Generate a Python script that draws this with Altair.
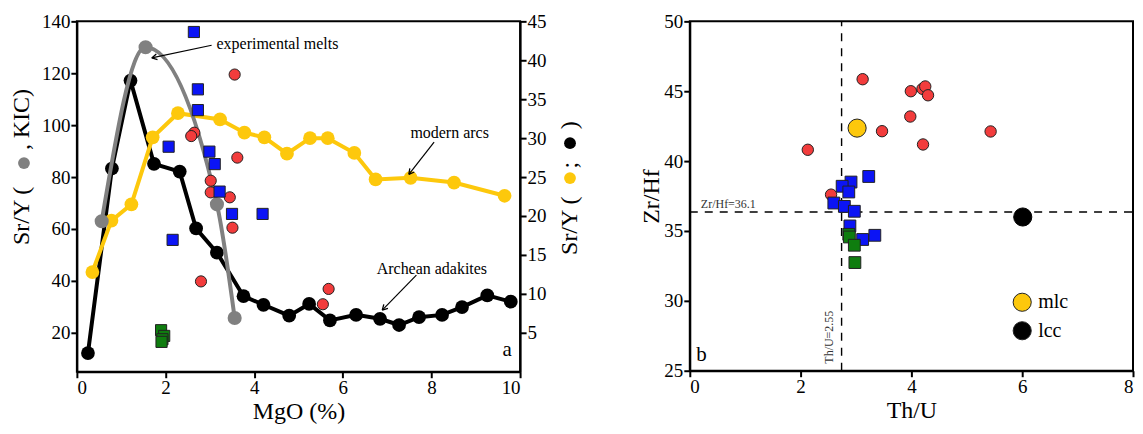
import altair as alt
import pandas as pd

# ---------------- panel a data ----------------
exp_mgo = [0.56, 1.55, 3.16, 3.56]
exp_sry = [63.0, 130.0, 69.5, 25.7]

arch_mgo = [0.25, 0.79, 1.21, 1.74, 2.32, 2.69, 3.16, 3.76, 4.21, 4.79, 5.24, 5.71, 6.30, 6.84, 7.27, 7.72, 8.24, 8.69, 9.26, 9.79]
arch_sry = [2.4, 26.1, 37.4, 26.7, 25.7, 18.4, 15.3, 9.7, 8.6, 7.2, 8.7, 6.6, 7.3, 6.8, 6.0, 7.0, 7.3, 8.3, 9.8, 9.0]

arc_mgo = [0.35, 0.78, 1.23, 1.71, 2.28, 3.23, 3.78, 4.23, 4.74, 5.26, 5.66, 6.26, 6.74, 7.53, 8.51, 9.65]
arc_sry = [12.8, 19.4, 21.5, 30.1, 33.2, 32.4, 30.7, 30.1, 28.0, 30.0, 30.0, 28.1, 24.7, 24.9, 24.3, 22.6]

red_mgo = [3.56, 2.65, 2.58, 3.62, 3.02, 3.02, 3.45, 3.51, 2.80, 5.68, 5.55]
red_sry = [119.5, 97.1, 95.8, 87.5, 78.6, 74.1, 72.2, 60.5, 39.8, 36.9, 31.0]

blue_mgo = [2.64, 2.73, 2.73, 2.07, 2.99, 3.11, 3.22, 3.50, 4.19, 2.16]
blue_sry = [135.9, 113.8, 105.8, 91.7, 89.8, 85.0, 74.4, 65.8, 65.8, 55.8]

green_mgo = [1.90, 1.97, 1.93, 1.91]
green_sry = [21.0, 18.8, 17.5, 16.5]

# ---------------- panel b data ----------------
b_red_thu = [3.12, 2.13, 3.47, 2.55, 3.99, 4.20, 4.25, 4.30, 3.98, 4.21, 5.43]
b_red_zrhf = [45.86, 40.81, 42.14, 37.60, 45.00, 45.17, 45.34, 44.71, 43.19, 41.19, 42.12]

b_blue_thu = [3.23, 2.91, 2.75, 2.87, 2.60, 2.79, 2.97, 2.89, 3.12, 3.34]
b_blue_zrhf = [38.9, 38.5, 38.2, 37.79, 37.0, 36.76, 36.41, 35.36, 34.39, 34.69]

b_green_thu = [2.87, 2.88, 2.97, 2.98]
b_green_zrhf = [34.76, 34.57, 33.98, 32.74]

mlc_thu, mlc_zrhf = [3.02], [42.36]
lcc_thu, lcc_zrhf = [6.01], [36.0]

zrhf_ref = 36.36
thu_ref = 2.74

# ---------------- styling ----------------
SERIF = "Liberation Serif"
RED = "#f23c3c"
BLUE = "#0b14f5"
GREEN = "#0f7d0f"
YELLOW = "#fdc80c"
GRAY = "#808080"
ARROW = "M0,0L-1,-0.55M0,0L-1,0.55"

W1, H1 = 444, 351
W2, H2 = 444, 350

xA = alt.Scale(domain=[0, 10], nice=False)
yL = alt.Scale(domain=[5, 140], nice=False, zero=False)
yR = alt.Scale(domain=[0, 45], nice=False, zero=False)

one = pd.DataFrame({"k": [0]})


def df(**cols):
    return pd.DataFrame(cols)


def arrow(x0, y0, x1, y1, ang, xs, ys):
    d = df(x0=[x0], y0=[y0], x1=[x1], y1=[y1])
    r = alt.Chart(d).mark_rule(color="black", strokeWidth=1.2).encode(
        x=alt.X("x0:Q", scale=xs), x2="x1:Q", y=alt.Y("y0:Q", scale=ys), y2="y1:Q")
    h = alt.Chart(d).mark_point(shape=ARROW, filled=False, stroke="black", strokeWidth=1.3,
                                size=110, angle=ang, opacity=1).encode(
        x=alt.X("x1:Q", scale=xs), y=alt.Y("y1:Q", scale=ys))
    return r + h


def vtext(txt, xpx, ypx, align="left", size=24):
    return alt.Chart(one).mark_text(text=txt, angle=270, align=align, baseline="middle",
                                    font=SERIF, fontSize=size, color="black").encode(
        x=alt.value(xpx), y=alt.value(ypx))


def dot(xpx, ypx, color, size=140):
    return alt.Chart(one).mark_circle(color=color, size=size, opacity=1).encode(
        x=alt.value(xpx), y=alt.value(ypx))


# ---------------- panel a: right-axis group ----------------
arch = df(m=arch_mgo, s=arch_sry)
arc = df(m=arc_mgo, s=arc_sry)

ax_x = alt.Axis(values=[0, 2, 4, 6, 8, 10], title="MgO (%)", format="d")
ax_r = alt.Axis(orient="right", values=[5, 10, 15, 20, 25, 30, 35, 40, 45], title=None, format="d")
ax_l = alt.Axis(orient="left", values=[20, 40, 60, 80, 100, 120, 140], title=None, format="d")

arch_line = alt.Chart(arch).mark_line(color="black", strokeWidth=4).encode(
    x=alt.X("m:Q", scale=xA, axis=ax_x), y=alt.Y("s:Q", scale=yR, axis=ax_r))
arch_pts = alt.Chart(arch).mark_circle(color="black", size=190, opacity=1).encode(
    x=alt.X("m:Q", scale=xA, axis=ax_x), y=alt.Y("s:Q", scale=yR, axis=ax_r))
arc_line = alt.Chart(arc).mark_line(color=YELLOW, strokeWidth=4).encode(
    x=alt.X("m:Q", scale=xA, axis=ax_x), y=alt.Y("s:Q", scale=yR, axis=ax_r))
arc_pts = alt.Chart(arc).mark_circle(color=YELLOW, size=190, opacity=1).encode(
    x=alt.X("m:Q", scale=xA, axis=ax_x), y=alt.Y("s:Q", scale=yR, axis=ax_r))

ann_r = df(m=[8.41, 8.01, 9.71], s=[30.7, 13.2, 2.8], t=["modern arcs", "Archean adakites", "a"],
           fs=[16, 16, 21])
ann_r_txt = alt.Chart(ann_r).mark_text(font=SERIF, color="black", align="center", baseline="middle").encode(
    x=alt.X("m:Q", scale=xA, axis=ax_x), y=alt.Y("s:Q", scale=yR, axis=ax_r), text="t:N",
    size=alt.Size("fs:Q", scale=None, legend=None))

right_title = (vtext("Sr/Y (", 494, 234) + dot(494, 157, YELLOW) +
               vtext(";", 494, 144, align="center") + dot(494, 122, "black") +
               vtext(")", 494, 104, align="center"))

group_r = alt.layer(arch_line, arc_line, arch_pts, arc_pts, ann_r_txt,
                    arrow(8.06, 29.5, 7.49, 25.35, 128, xA, yR),
                    arrow(7.66, 12.4, 6.89, 7.91, 134, xA, yR),
                    right_title)

# ---------------- panel a: left-axis group ----------------
exp = df(m=exp_mgo, s=exp_sry)
exp_line = alt.Chart(exp).mark_line(color=GRAY, strokeWidth=4, interpolate="monotone").encode(
    x=alt.X("m:Q", scale=xA, axis=ax_x), y=alt.Y("s:Q", scale=yL, axis=ax_l))
exp_pts = alt.Chart(exp).mark_circle(color=GRAY, size=200, opacity=1).encode(
    x=alt.X("m:Q", scale=xA, axis=ax_x), y=alt.Y("s:Q", scale=yL, axis=ax_l))
red_pts = alt.Chart(df(m=red_mgo, s=red_sry)).mark_point(
    shape="circle", filled=True, fill=RED, stroke="#222222", strokeWidth=1, size=125, opacity=1).encode(
    x=alt.X("m:Q", scale=xA, axis=ax_x), y=alt.Y("s:Q", scale=yL, axis=ax_l))
blue_pts = alt.Chart(df(m=blue_mgo, s=blue_sry)).mark_point(
    shape="square", filled=True, fill=BLUE, stroke="#222222", strokeWidth=1, size=125, opacity=1).encode(
    x=alt.X("m:Q", scale=xA, axis=ax_x), y=alt.Y("s:Q", scale=yL, axis=ax_l))
green_pts = alt.Chart(df(m=green_mgo, s=green_sry)).mark_point(
    shape="square", filled=True, fill=GREEN, stroke="#222222", strokeWidth=1, size=125, opacity=1).encode(
    x=alt.X("m:Q", scale=xA, axis=ax_x), y=alt.Y("s:Q", scale=yL, axis=ax_l))
exp_txt = alt.Chart(df(m=[3.15], s=[131.2], t=["experimental melts"])).mark_text(
    font=SERIF, fontSize=16, color="black", align="left", baseline="middle").encode(
    x=alt.X("m:Q", scale=xA, axis=ax_x), y=alt.Y("s:Q", scale=yL, axis=ax_l), text="t:N")

left_title = (vtext("Sr/Y (", -55, 224) + dot(-53, 142, GRAY) + vtext(", KIC)", -55, 129))

group_l = alt.layer(exp_line, exp_pts, red_pts, blue_pts, green_pts, exp_txt,
                    arrow(3.04, 130.8, 1.69, 125.9, 168, xA, yL), left_title)

panel_a = alt.layer(group_r, group_l).resolve_scale(y="independent").properties(width=W1, height=H1)

# ---------------- panel b ----------------
xB = alt.Scale(domain=[0, 8], nice=False)
yB = alt.Scale(domain=[25, 50], nice=False, zero=False)
ax_bx = alt.Axis(values=[0, 2, 4, 6, 8], title="Th/U", format="d")
ax_by = alt.Axis(values=[25, 30, 35, 40, 45, 50], title="Zr/Hf", format="d", titlePadding=0)


def XB(f="x:Q"):
    return alt.X(f, scale=xB, axis=ax_bx)


def YB(f="y:Q"):
    return alt.Y(f, scale=yB, axis=ax_by)


hline = alt.Chart(df(x=[0], x2=[8], y=[zrhf_ref])).mark_rule(
    color="black", strokeWidth=1.4, strokeDash=[8, 7]).encode(x=XB(), x2="x2:Q", y=YB())
vline = alt.Chart(df(x=[thu_ref], y=[25], y2=[50])).mark_rule(
    color="black", strokeWidth=1.4, strokeDash=[8, 7]).encode(x=XB(), y=YB(), y2="y2:Q")

hlab = alt.Chart(df(x=[0.2], y=[36.9], t=["Zr/Hf=36.1"])).mark_text(
    font=SERIF, fontSize=12, color="#333333", align="left", baseline="middle").encode(
    x=XB(), y=YB(), text="t:N")
vlab = alt.Chart(df(x=[2.52], y=[27.4], t=["Th/U=2.55"])).mark_text(
    font=SERIF, fontSize=12, color="#333333", align="center", baseline="middle", angle=270).encode(
    x=XB(), y=YB(), text="t:N")

b_red = alt.Chart(df(x=b_red_thu, y=b_red_zrhf)).mark_point(
    shape="circle", filled=True, fill=RED, stroke="#222222", strokeWidth=1, size=130, opacity=1).encode(
    x=XB(), y=YB())
b_blue = alt.Chart(df(x=b_blue_thu, y=b_blue_zrhf)).mark_point(
    shape="square", filled=True, fill=BLUE, stroke="#222222", strokeWidth=1, size=140, opacity=1).encode(
    x=XB(), y=YB())
b_green = alt.Chart(df(x=b_green_thu, y=b_green_zrhf)).mark_point(
    shape="square", filled=True, fill=GREEN, stroke="#222222", strokeWidth=1, size=140, opacity=1).encode(
    x=XB(), y=YB())
b_mlc = alt.Chart(df(x=mlc_thu, y=mlc_zrhf)).mark_point(
    shape="circle", filled=True, fill=YELLOW, stroke="#222222", strokeWidth=1, size=330, opacity=1).encode(
    x=XB(), y=YB())
b_lcc = alt.Chart(df(x=lcc_thu, y=lcc_zrhf)).mark_point(
    shape="circle", filled=True, fill="black", stroke="black", strokeWidth=1, size=330, opacity=1).encode(
    x=XB(), y=YB())

leg = df(x=[6.0, 6.0], y=[29.9, 27.86], t=["mlc", "lcc"], c=[YELLOW, "black"])
leg_pts = alt.Chart(leg).mark_point(shape="circle", filled=True, stroke="#222222", strokeWidth=1,
                                    size=330, opacity=1).encode(
    x=XB(), y=YB(), fill=alt.Fill("c:N", scale=None, legend=None))
leg_txt = alt.Chart(leg).mark_text(font=SERIF, fontSize=20, color="black", align="left",
                                   baseline="middle", dx=16).encode(
    x=XB(), y=YB(), text="t:N")
b_lab = alt.Chart(df(x=[0.21], y=[26.1], t=["b"])).mark_text(
    font=SERIF, fontSize=21, color="black", align="center", baseline="middle").encode(
    x=XB(), y=YB(), text="t:N")

panel_b = alt.layer(hline, vline, hlab, vlab, b_red, b_blue, b_green, b_mlc, b_lcc,
                    leg_pts, leg_txt, b_lab).properties(width=W2, height=H2)

chart = alt.hconcat(panel_a, panel_b, spacing=56).properties(
    background="white", padding={"left": 1, "top": 3, "right": 0, "bottom": 0}
).configure_view(
    stroke="black", strokeWidth=2
).configure_axis(
    domainColor="black", domainWidth=2, tickColor="black", tickWidth=2,
    tickSize=6, labelFont=SERIF, labelFontSize=19, labelColor="black",
    titleFont=SERIF, titleFontSize=24, titleColor="black",
    titleFontWeight="normal", grid=False, labelPadding=1, titlePadding=0
).configure_axisX(titlePadding=2).configure_text(font=SERIF)

chart.save("out.html", embed_options={"renderer": "svg", "actions": False})
